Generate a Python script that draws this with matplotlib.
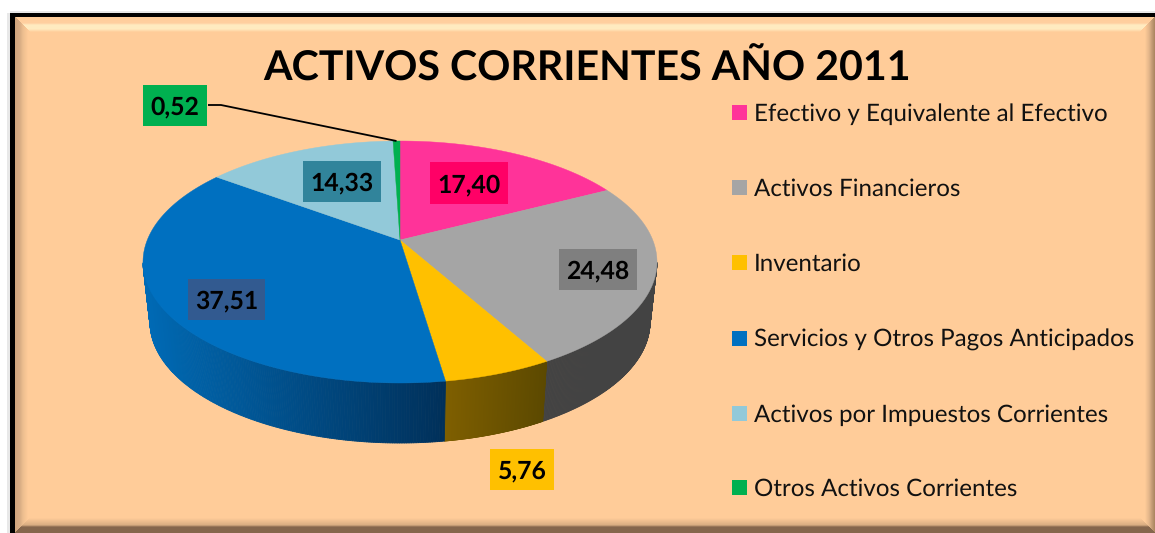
import numpy as np
import matplotlib
matplotlib.use('Agg')
import matplotlib.pyplot as plt
from matplotlib.colors import to_rgb
from matplotlib.collections import PolyCollection
from matplotlib.patches import Polygon, Rectangle

plt.rcParams['font.family'] = ['Lato', 'DejaVu Sans']
plt.rcParams['text.hinting'] = 'no_hinting'

# Data
title = 'ACTIVOS CORRIENTES AÑO 2011'
names = ['Efectivo y Equivalente al Efectivo', 'Activos Financieros', 'Inventario',
         'Servicios y Otros Pagos Anticipados', 'Activos por Impuestos Corrientes',
         'Otros Activos Corrientes']
values = [17.40, 24.48, 5.76, 37.51, 14.33, 0.52]

# Styles
top_colors = ['#FF3399', '#A5A5A5', '#FFC000', '#0070C0', '#92C9D9', '#00B050']
box_colors = ['#FF0066', '#7F7F7F', '#FFC000', '#325A90', '#31849B', '#00B050']
# side colours, left to right
side_colors = [('#FF3399', '#FF3399'), ('#434343', '#434343'), ('#7F5F00', '#5C4900'),
               ('#006AB5', '#00305A'), ('#92C9D9', '#92C9D9'), ('#00B050', '#00B050')]
# label boxes: left, top, right, bottom in pixels
label_boxes = [(430, 162, 508, 204), (559, 249, 637, 290), (490, 449, 554, 490),
               (188, 279, 265, 320), (303, 161, 381, 202), (143, 85, 207, 126)]
legend_y = [112, 187, 262, 338, 413, 487]

W, H = 1155, 533
BG = '#FFCC99'

# Pie geometry in pixels
cx, cy, a, b = 400, 262, 257, 121
cx2, cy2, a2, b2 = 400, 322, 250, 121
k = -22 / 121  # centre of the pie sits above the centre of the ellipse (perspective)


def project(frac):
    # share of the circle, clockwise from the top, to unit ellipse coordinates
    ang = 2 * np.pi * np.asarray(frac)
    x, y = np.sin(ang), -np.cos(ang)
    d = 1 + k * y
    return x * np.sqrt(1 - k ** 2) / d, (y + k) / d


def ramp(stops, d):
    pos = [s[0] for s in stops]
    cols = np.array([to_rgb(s[1]) for s in stops])
    return np.stack([np.interp(d, pos, cols[:, i]) for i in range(3)], axis=-1)


def background():
    yy, xx = np.mgrid[0:H, 0:W] + 0.5
    dl, dt, dr, db = xx - 15, yy - 17, W - xx, H - yy
    top = ramp([(0, BG), (6, '#FFD0A0'), (8, '#FFEBC0'), (12, '#FFEBC0'), (15, BG)], dt)
    left = ramp([(0, '#CFA47C'), (5, '#D8AD84'), (8, '#EDBE8F'), (13, BG)], dl)
    right = ramp([(0, '#A9845F'), (3, '#C39B75'), (6, '#E4B78B'), (10, BG)], dr)
    bottom = ramp([(0, '#85664C'), (6, '#85664C'), (8, '#D9AD82'), (15, BG)], db)
    img = np.full((H, W, 3), to_rgb(BG))
    m = np.minimum.reduce([dl, dt, dr, db])
    img = np.where((m == dt)[..., None], top, img)
    img = np.where((m == dr)[..., None], right, img)
    img = np.where((m == dl)[..., None], left, img)
    img = np.where((m == db)[..., None], bottom, img)
    # soft shadow, then the black border on the left and top only
    outside = (dl < 0) | (dt < 0)
    img[outside] = 1.0
    img[((xx < 10) & (xx > 7) & (yy > 13)) | ((yy < 13) & (yy > 11) & (xx > 10))] = to_rgb('#E8E8E8')
    img[(xx >= 10) & (xx < 15) & (yy >= 13)] = 0
    img[(yy >= 13) & (yy < 17) & (xx >= 10)] = 0
    return img


fig = plt.figure(figsize=(W / 100, H / 100), dpi=100)
ax = fig.add_axes([0, 0, 1, 1])
ax.imshow(background(), extent=(0, W, H, 0), aspect='auto', interpolation='nearest')
ax.set_xlim(0, W)
ax.set_ylim(H, 0)
ax.axis('off')

ax.text(587.5, 81, title, fontsize=29.6, fontweight='bold', ha='center', va='baseline', color='black')

ends = np.cumsum(values) / np.sum(values)
starts = np.r_[0, ends[:-1]]

# Sides first, only the front half of the rim can be seen
for s, e, (c0, c1) in zip(starts, ends, side_colors):
    f = np.linspace(s, e, 300)
    ux, uy = project(f)
    keep = uy >= 0
    if keep.sum() < 2:
        continue
    ux, uy = ux[keep], uy[keep]
    tx, ty = cx + a * ux, cy + b * uy
    bx, by = cx2 + a2 * ux, cy2 + b2 * uy
    quads = [[(tx[i], ty[i]), (tx[i + 1], ty[i + 1]), (bx[i + 1], by[i + 1]), (bx[i], by[i])]
             for i in range(len(tx) - 1)]
    shade = (tx[:-1] - tx.min()) / max(tx.max() - tx.min(), 1)
    cols = np.outer(1 - shade, to_rgb(c0)) + np.outer(shade, to_rgb(c1))
    ax.add_collection(PolyCollection(quads, facecolors=cols, edgecolors=cols, linewidths=0.6))

# Top faces
apex = (cx, cy + b * k)
for s, e, col in zip(starts, ends, top_colors):
    ux, uy = project(np.linspace(s, e, 200))
    pts = np.column_stack([cx + a * ux, cy + b * uy])
    ax.add_patch(Polygon(np.vstack([apex, pts]), closed=True, facecolor=col, edgecolor=col, linewidth=0.3))

# Leader line for the smallest slice
lx, ly = project((starts[5] + ends[5]) / 2)
ax.plot([208, 221, cx + a * lx], [105, 105, cy + b * ly], color='black', lw=1.3, solid_capstyle='butt')

# Value labels
for v, box, col in zip(values, label_boxes, box_colors):
    x0, y0, x1, y1 = box
    ax.add_patch(Rectangle((x0, y0), x1 - x0, y1 - y0, facecolor=col, edgecolor='none'))
    ax.text((x0 + x1) / 2, (y0 + y1) / 2, f'{v:.2f}'.replace('.', ','), fontsize=17.8,
            fontweight='bold', ha='center', va='center_baseline', color='black')

# Legend
for name, y, col in zip(names, legend_y, top_colors):
    ax.add_patch(Rectangle((732, y - 7.5), 15, 15, facecolor=col, edgecolor='none'))
    ax.text(754, y, name, fontsize=17.4, ha='left', va='center_baseline', color='#111111')

fig.savefig('out.png', dpi=100)
